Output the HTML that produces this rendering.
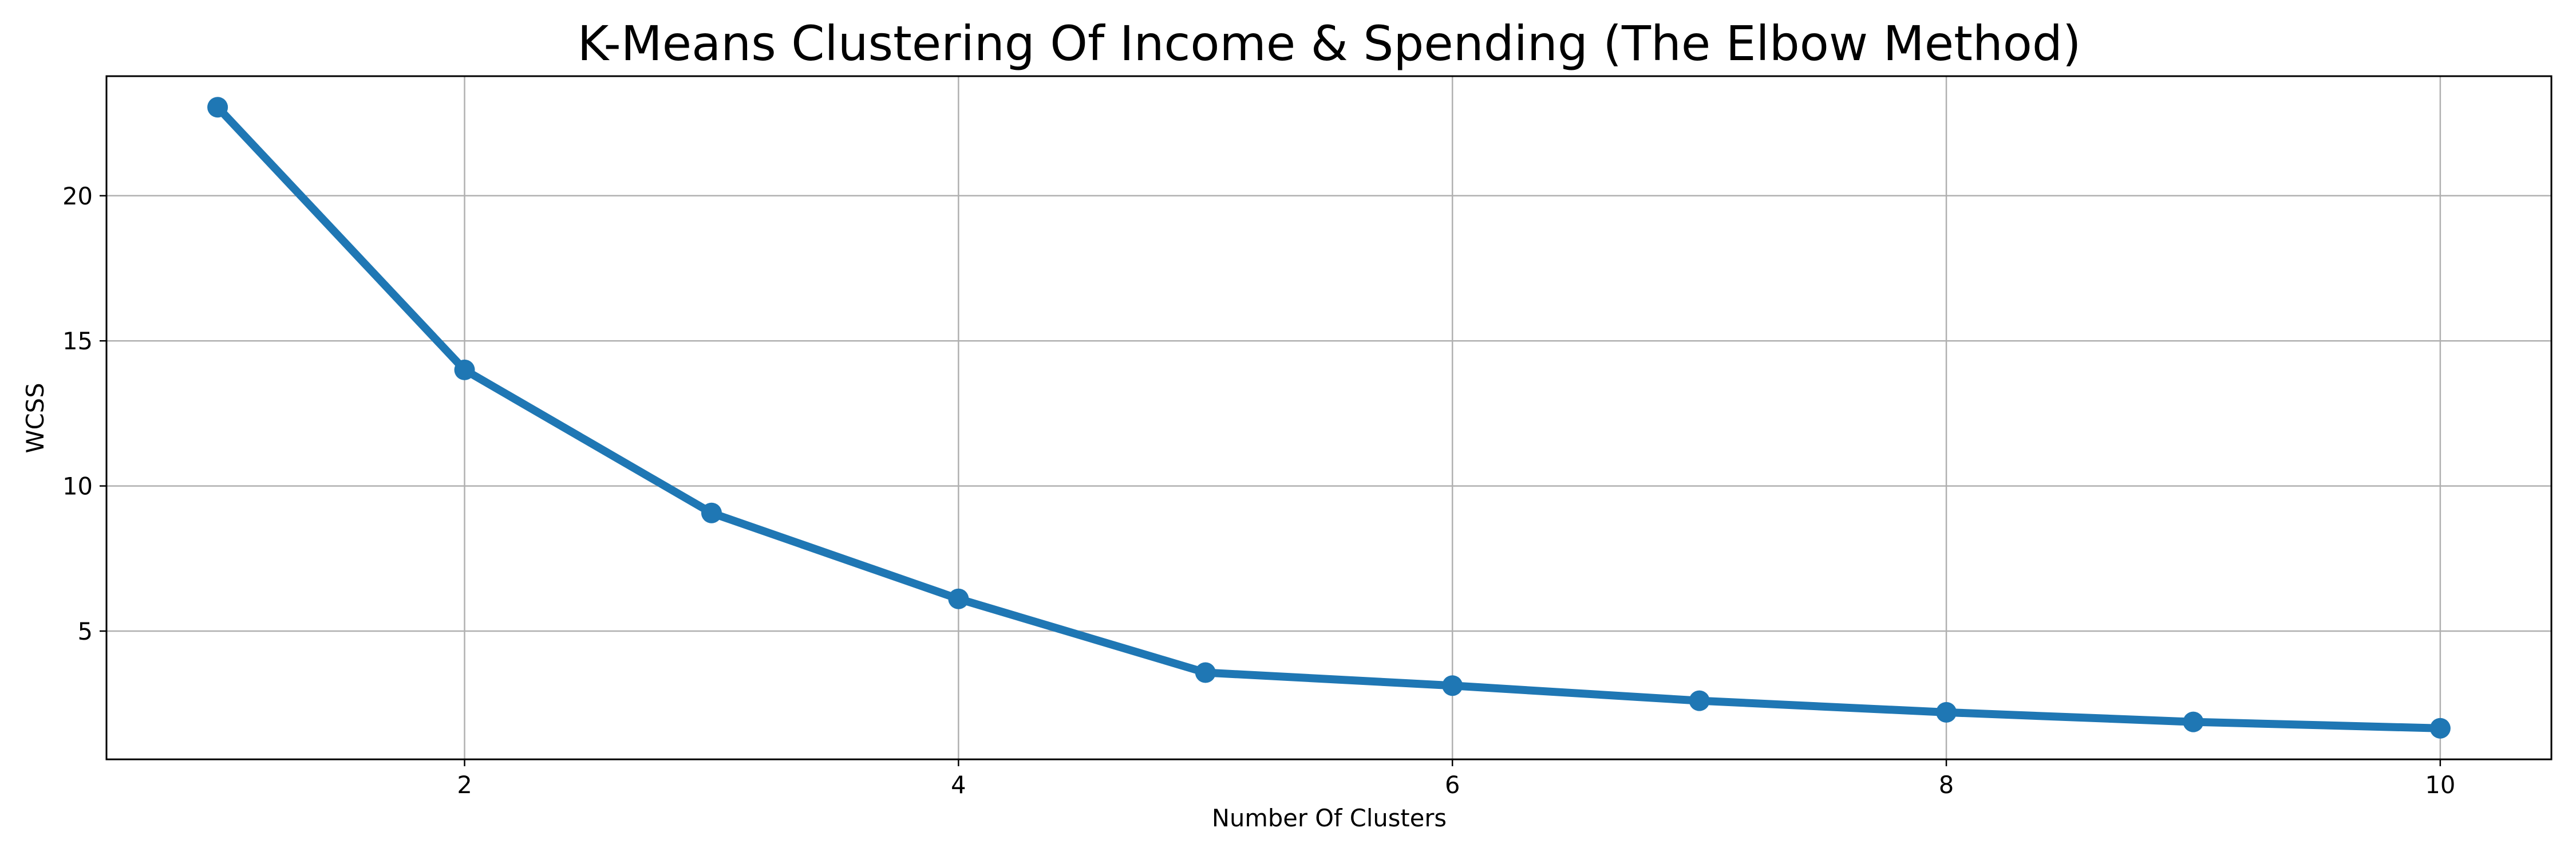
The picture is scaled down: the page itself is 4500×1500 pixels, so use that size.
<!DOCTYPE html>
<html><head><meta charset="utf-8"><style>body{margin:0;background:#fff}svg{display:block}text{font-family:"DejaVu Sans","Liberation Sans",sans-serif}</style></head>
<body>
<svg id="chart" width="4500" height="1500" viewBox="0 0 4500 1500" xmlns="http://www.w3.org/2000/svg">
<rect width="4500" height="1500" fill="#fff"/>
<text x="2322" y="105" font-size="83.5" text-anchor="middle">K-Means Clustering Of Income &amp; Spending (The Elbow Method)</text>
<g id="grid"></g><g id="axes"></g><g id="series"></g>
<text x="2322" y="1443" font-size="41.6" text-anchor="middle">Number Of Clusters</text>
<text x="0" y="0" font-size="41.6" text-anchor="middle" transform="translate(76,730) rotate(-90)">WCSS</text>
</svg>
<script>
const clusters=[1,2,3,4,5,6,7,8,9,10];
const wcss=[23.05,14.0,9.07,6.11,3.57,3.12,2.6,2.2,1.87,1.65];
const xTicks=[2,4,6,8,10];
const yTicks=[5,10,15,20];
const NS="http://www.w3.org/2000/svg";
const L=186,R=4457,T=133,B=1326;
const xmin=0.55,xmax=10.45;
const ymn=Math.min(...wcss),ymx=Math.max(...wcss),pad=(ymx-ymn)*0.05;
const ymin=ymn-pad,ymax=ymx+pad;
const xs=v=>L+(v-xmin)/(xmax-xmin)*(R-L);
const ys=v=>B-(v-ymin)/(ymax-ymin)*(B-T);
function mk(tag,attrs,parent){const e=document.createElementNS(NS,tag);for(const k in attrs)e.setAttribute(k,attrs[k]);parent.appendChild(e);return e;}
const grid=document.getElementById('grid'),axes=document.getElementById('axes'),series=document.getElementById('series');
xTicks.forEach(t=>{const x=xs(t);
 const g=mk('line',{x1:x,x2:x,y1:T,y2:B,stroke:'#b0b0b0','stroke-width':2.5},grid);
 
 
 mk('line',{x1:x,x2:x,y1:B,y2:B+12,stroke:'#000','stroke-width':2.5},axes);
 const tx=mk('text',{x:x,y:B+59,'font-size':41.6,'text-anchor':'middle'},axes);tx.textContent=t;
 
 
});
yTicks.forEach(t=>{const y=ys(t);
 const g=mk('line',{x1:L,x2:R,y1:y,y2:y,stroke:'#b0b0b0','stroke-width':2.5},grid);
 
 
 mk('line',{x1:L-12,x2:L,y1:y,y2:y,stroke:'#000','stroke-width':2.5},axes);
 const tx=mk('text',{x:L-24,y:y+15,'font-size':41.6,'text-anchor':'end'},axes);tx.textContent=t;
 
 
});
const frame=mk('rect',{x:L,y:T,width:R-L,height:B-T,fill:'none',stroke:'#000','stroke-width':3},axes);


const pts=clusters.map((c,i)=>xs(c)+','+ys(wcss[i])).join(' ');
const line=mk('polyline',{points:pts,fill:'none',stroke:'#1f77b4','stroke-width':14,'stroke-linejoin':'round','stroke-linecap':'round'},series);


clusters.forEach((c,i)=>{const p=mk('circle',{cx:xs(c),cy:ys(wcss[i]),r:18,fill:'#1f77b4'},series);
 
 
});
</script>
</body></html>
